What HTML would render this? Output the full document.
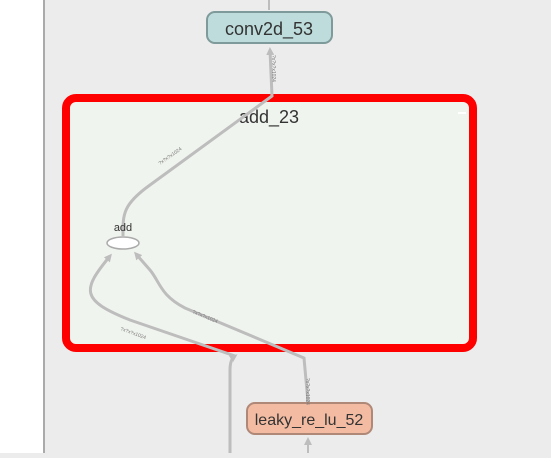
<!DOCTYPE html>
<html><head><style>
body{margin:0;width:551px;height:453px;overflow:hidden;background:#ececec;font-family:"Liberation Sans",sans-serif;}
</style></head><body>
<svg width="551" height="453" viewBox="0 0 551 453" xmlns="http://www.w3.org/2000/svg">
<defs><marker id="a" markerWidth="8" markerHeight="8" refX="5" refY="4" orient="auto" markerUnits="userSpaceOnUse"><path d="M0,0 L8,4 L0,8 z" fill="#bdbdbd"/></marker></defs>
<rect x="0" y="0" width="44" height="453" fill="#fff"/>
<line x1="44" y1="0" x2="44" y2="453" stroke="#aaa" stroke-width="2"/>
<line x1="269" y1="0" x2="269" y2="10" stroke="#bdbdbd" stroke-width="2"/>
<rect x="66" y="98" width="407" height="250" rx="10" fill="#f0f4ee" stroke="#ff0000" stroke-width="8"/>
<rect x="458" y="112" width="8" height="2" fill="#fff"/>
<text x="269" y="123" font-size="18" fill="#333" text-anchor="middle">add_23</text>
<path d="M123,236 C123,215 122,205 150,185 L272,96 L270,50" fill="none" stroke="#bdbdbd" stroke-width="3" marker-end="url(#a)"/>
<path d="M230,453 L230,370 C230,362 232,358 235,356" fill="none" stroke="#bdbdbd" stroke-width="3" marker-end="url(#a)"/>
<path d="M235,356 L130,320 C80,300 82,290 110,256" fill="none" stroke="#bdbdbd" stroke-width="3" marker-end="url(#a)"/>
<path d="M308,402 L304,358 L185,308 C160,295 160,282 150,270 L136,254" fill="none" stroke="#bdbdbd" stroke-width="3" marker-end="url(#a)"/>
<line x1="308" y1="453" x2="308" y2="440" stroke="#bdbdbd" stroke-width="2" marker-end="url(#a)"/>
<ellipse cx="123" cy="243" rx="16" ry="6" fill="#fff" stroke="#aaa" stroke-width="1.5"/>
<text x="123" y="231" font-size="11" fill="#333" text-anchor="middle">add</text>
<rect x="207" y="12" width="125" height="31" rx="8" fill="#bddcdb" stroke="#7f9a9a" stroke-width="2"/>
<text x="269" y="35" font-size="18" fill="#333" text-anchor="middle">conv2d_53</text>
<rect x="247" y="403" width="125" height="31" rx="8" fill="#f3bca2" stroke="#b08878" stroke-width="2"/>
<text x="309" y="425" font-size="16" fill="#333" text-anchor="middle">leaky_re_lu_52</text>
<g font-size="5" fill="#777">
<text transform="translate(272,55) rotate(90)">?x?x?x1024</text>
<text transform="translate(160,165) rotate(-35)">?x?x?x1024</text>
<text transform="translate(120,330) rotate(20)">?x?x?x1024</text>
<text transform="translate(192,313) rotate(22)">?x?x?x1024</text>
<text transform="translate(306,378) rotate(90)">?x?x?x1024</text>
</g>
</svg>
</body></html>
